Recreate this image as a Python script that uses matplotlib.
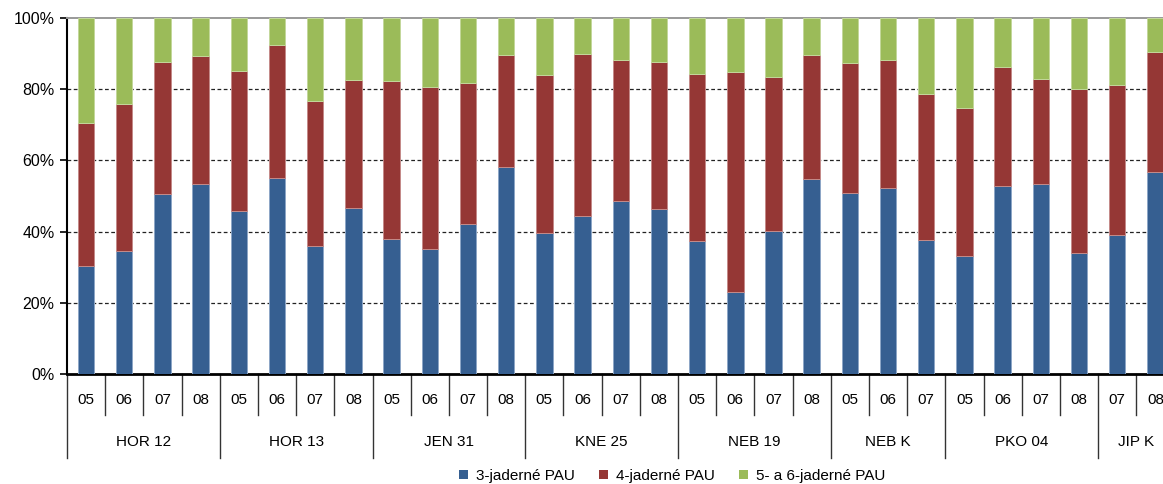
import matplotlib
matplotlib.use("Agg")
import matplotlib.pyplot as plt
import numpy as np
from matplotlib.patches import Patch

plt.rcParams['font.family'] = ['Liberation Sans', 'DejaVu Sans']

# sampling sites and years (share of PAH groups, %)
groups = ['HOR 12', 'HOR 13', 'JEN 31', 'KNE 25', 'NEB 19', 'NEB K', 'PKO 04', 'JIP K']
years = [['05', '06', '07', '08'], ['05', '06', '07', '08'], ['05', '06', '07', '08'],
         ['05', '06', '07', '08'], ['05', '06', '07', '08'], ['05', '06', '07'],
         ['05', '06', '07', '08'], ['07', '08']]

pau3 = [30.4, 34.6, 50.5, 53.5, 45.7, 55.1, 36.0, 46.7, 37.8, 35.2, 42.0, 58.2, 39.6, 44.5, 48.7,
        46.3, 37.3, 23.1, 40.3, 54.8, 50.8, 52.2, 37.6, 33.2, 52.9, 53.5, 33.9, 39.0, 56.8]
pau4 = [40.0, 41.2, 37.1, 35.8, 39.5, 37.2, 40.8, 35.8, 44.4, 45.3, 39.8, 31.4, 44.3, 45.5, 39.5,
        41.3, 47.0, 61.8, 43.2, 34.8, 36.5, 36.0, 41.1, 41.6, 33.4, 29.4, 46.2, 42.2, 33.6]
pau56 = [29.6, 24.2, 12.4, 10.7, 14.8, 7.7, 23.2, 17.5, 17.8, 19.5, 18.2, 10.4, 16.1, 10.0, 11.8,
         12.4, 15.7, 15.1, 16.5, 10.4, 12.7, 11.8, 21.3, 25.2, 13.7, 17.1, 19.9, 18.8, 9.6]

series = ['3-jaderné PAU', '4-jaderné PAU', '5- a 6-jaderné PAU']
colors = ['#365F91', '#953735', '#9BBB59']
edges = ['#8DA6C6', '#C48A89', '#C3D79B']

vals = np.array([pau3, pau4, pau56], dtype=float)
vals = 100 * vals / vals.sum(axis=0)
n = vals.shape[1]
x = np.arange(n)

fig = plt.figure(figsize=(11.63, 4.84), dpi=100)
# plot area runs a bit past the right edge of the image
ax = fig.add_axes([67 / 1163, 1 - 374 / 484, 1107.5 / 1163, 356 / 484])

bottom = np.zeros(n)
for v, c, e in zip(vals, colors, edges):
    ax.bar(x, v, 0.43, bottom=bottom, color=c, edgecolor=e, linewidth=0.7, zorder=3)
    bottom += v

ax.set_xlim(-0.5, n - 0.5)
ax.set_ylim(0, 100)
ax.set_yticks([0, 20, 40, 60, 80, 100])
ax.set_yticklabels(['0%', '20%', '40%', '60%', '80%', '100%'], fontsize=11.5)
ax.tick_params(axis='y', direction='out', length=5, width=1.2, pad=4)
ax.set_xticks([])
for y in [20, 40, 60, 80]:
    ax.axhline(y, color='#222222', lw=0.9, ls=(0, (3, 2)), zorder=1)

ax.spines['right'].set_visible(False)
ax.spines['top'].set_color('#999999')
ax.spines['top'].set_linewidth(1.4)
ax.spines['left'].set_linewidth(1.5)
ax.spines['bottom'].set_linewidth(2)

# two-level category axis
tr = ax.get_xaxis_transform()
pos = 0
ax.plot([-0.5, -0.5], [0, -0.236], color='#333333', lw=1, transform=tr, clip_on=False)
for g, yrs in zip(groups, years):
    for i, yr in enumerate(yrs):
        ax.text(pos + i, -0.073, yr, ha='center', va='center', fontsize=11, transform=tr)
        if i < len(yrs) - 1:
            ax.plot([pos + i + 0.5] * 2, [0, -0.115], color='#333333', lw=1,
                    transform=tr, clip_on=False)
    ax.text(pos + (len(yrs) - 1) / 2, -0.191, g, ha='center', va='center', fontsize=11,
            transform=tr)
    pos += len(yrs)
    ax.plot([pos - 0.5] * 2, [0, -0.236], color='#333333', lw=1, transform=tr, clip_on=False)

handles = [Patch(facecolor=c, edgecolor='none') for c in colors]
fig.legend(handles, series, loc='center', bbox_to_anchor=(672 / 1163, 1 - 476 / 484), ncol=3,
           frameon=False, fontsize=11, handlelength=0.6, handleheight=0.6,
           handletextpad=0.5, columnspacing=1.6)

fig.savefig('out.png', dpi=100)
